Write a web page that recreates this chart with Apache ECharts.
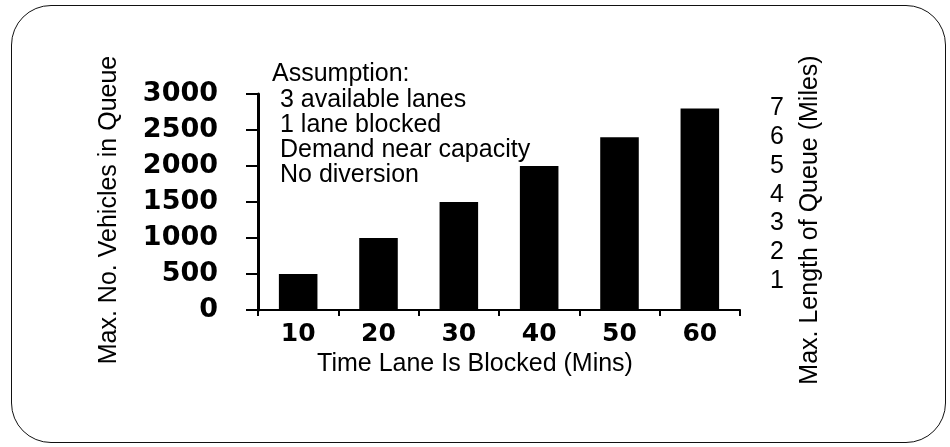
<!DOCTYPE html>
<html>
<head>
<meta charset="utf-8">
<script src="https://cdn.jsdelivr.net/npm/echarts@6/dist/echarts.min.js"></script>
<style>
  html, body { margin: 0; padding: 0; background: #fff; }
  #wrap { position: relative; width: 950px; height: 447px; }
  #chart { width: 950px; height: 447px; }
  #frame {
    position: absolute; left: 11px; top: 5px; width: 933px; height: 436px;
    border: 1.5px solid #111; border-radius: 40px; pointer-events: none;
  }
</style>
</head>
<body>
<div id="wrap">
  <div id="chart"></div>
  <div id="frame"></div>
</div>
<script>
// Queue build-up while one lane is blocked
const blockedMinutes = ['10', '20', '30', '40', '50', '60'];
const maxVehicles = [500, 1000, 1500, 2000, 2400, 2800];
const vehicleTicks = [0, 500, 1000, 1500, 2000, 2500, 3000];
const mileTicks = [1, 2, 3, 4, 5, 6, 7];
const assumptionHead = 'Assumption:';
const assumptionLines = ['3 available lanes', '1 lane blocked', 'Demand near capacity', 'No diversion'];

const sans = '"Liberation Sans", Arial, Helvetica, sans-serif';
const boldNum = '"DejaVu Sans", "Liberation Sans", sans-serif';

const chart = echarts.init(document.getElementById('chart'), null, { renderer: 'canvas' });

chart.setOption({
  animation: false,
  title: [
    {
      text: assumptionHead,
      left: 272,
      top: 62,
      padding: 0,
      textStyle: { fontFamily: sans, fontSize: 25, fontWeight: 'normal', color: '#000', lineHeight: 25 }
    },
    {
      text: assumptionLines.join('\n'),
      left: 280,
      top: 88,
      padding: 0,
      textStyle: { fontFamily: sans, fontSize: 25, fontWeight: 'normal', color: '#000', lineHeight: 25 }
    }
  ],
  grid: { left: 258, top: 94, width: 482, height: 216 },
  xAxis: {
    type: 'category',
    data: blockedMinutes,
    boundaryGap: true,
    name: 'Time Lane Is Blocked (Mins)',
    nameLocation: 'middle',
    nameGap: 42,
    nameTextStyle: { fontFamily: sans, fontSize: 25, color: '#000', padding: [0, 48, 0, 0] },
    axisLine: { onZero: false, lineStyle: { color: '#000', width: 2 } },
    axisTick: { show: true, length: 6, lineStyle: { color: '#000', width: 2 } },
    axisLabel: { fontFamily: boldNum, fontWeight: 'bold', fontSize: 25, color: '#000', margin: 12 }
  },
  yAxis: [
    {
      type: 'value',
      min: 0,
      max: 3000,
      interval: 500,
      position: 'left',
      name: 'Max. No. Vehicles in Queue',
      nameLocation: 'middle',
      nameGap: 136,
      nameTextStyle: { fontFamily: sans, fontSize: 25, color: '#000', padding: [0, 16, 0, 0] },
      axisLine: { show: true, onZero: false, lineStyle: { color: '#000', width: 3 } },
      axisTick: { show: true, length: 12, lineStyle: { color: '#000', width: 2 } },
      splitLine: { show: false },
      axisLabel: {
        fontFamily: boldNum, fontWeight: 'bold', fontSize: 27, color: '#000', margin: 40,
        formatter: v => (vehicleTicks.indexOf(v) >= 0 ? String(v) : '')
      }
    },
    {
      type: 'value',
      min: 0,
      max: 7.5,
      interval: 1,
      position: 'right',
      name: 'Max. Length of Queue (Miles)',
      nameLocation: 'middle',
      nameGap: 58,
      nameTextStyle: { fontFamily: sans, fontSize: 25, color: '#000', padding: [0, 36, 0, 0] },
      axisLine: { show: false },
      axisTick: { show: false },
      splitLine: { show: false },
      axisLabel: {
        fontFamily: sans, fontSize: 25, color: '#000', margin: 30,
        formatter: v => (mileTicks.indexOf(v) >= 0 ? String(v) : '')
      }
    }
  ],
  series: [
    {
      type: 'bar',
      yAxisIndex: 0,
      data: maxVehicles,
      barWidth: '48%',
      itemStyle: { color: '#000' }
    }
  ]
});
</script>
</body>
</html>
